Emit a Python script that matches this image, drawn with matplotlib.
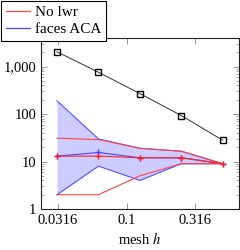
import matplotlib.pyplot as plt
import matplotlib.ticker as mticker
import numpy as np

plt.rcParams['font.family'] = ['Liberation Serif', 'DejaVu Serif']
plt.rcParams['mathtext.fontset'] = 'stix'

# mesh sizes
h = [1/32, 1/16, 1/8, 1/4, 1/2]

# reference (black squares)
ref = [2050, 760, 270, 93, 28]

# No lwr (red): min / mean / max
red_lo = [2, 2, 5, 9, 9]
red_mid = [13, 13, 12, 12, 9]
red_hi = [31, 29, 19, 16.5, 9]

# faces ACA (blue): min / mean / max
blue_lo = [2, 8, 4, 9, 9]
blue_mid = [13, 15.5, 12, 12, 9]
blue_hi = [190, 30, 19, 16.5, 9]

fig = plt.figure(figsize=(2.4, 2.5), dpi=100)
ax = fig.add_axes([0.171, 0.164, 0.825, 0.684])

ax.fill_between(h, blue_lo, blue_hi, color='#ccccff', lw=0)
ax.plot(h, blue_lo, color='#5555ff', lw=0.8)
ax.plot(h, blue_hi, color='#5555ff', lw=0.8)
ax.plot(h, blue_mid, color='#4444ff', lw=0.8, marker='+', ms=5, mew=1.0)
ax.plot(h, red_lo, color='#ff4444', lw=0.8)
ax.plot(h, red_hi, color='#ff4444', lw=0.8)
ax.plot(h, red_mid, color='#ff2222', lw=0.8, marker='+', ms=5, mew=1.0)
ax.plot(h, ref, color='#333333', lw=0.7, marker='s', ms=4.5, mfc='none', mec='black', mew=1.0)

ax.set_xscale('log')
ax.set_yscale('log')
ax.set_xlim(0.02393, 0.657)
ax.set_ylim(1, 4000)

ax.set_xticks([0.0316, 0.1, 0.316])
ax.set_xticklabels(['0.0316', '0.1', '0.316'])
ax.xaxis.set_minor_locator(mticker.NullLocator())
ax.yaxis.set_major_locator(mticker.FixedLocator([1, 10, 100, 1000]))
ax.yaxis.set_major_formatter(mticker.FuncFormatter(lambda v, p: '{:,}'.format(int(v))))
ax.yaxis.set_minor_locator(mticker.LogLocator(base=10, subs=np.arange(2, 10)))
ax.yaxis.set_minor_formatter(mticker.NullFormatter())

ax.tick_params(which='both', direction='in', top=True, right=True, labelsize=10.5, color='#888888')
ax.tick_params(which='major', length=4.5, width=0.6)
ax.tick_params(which='minor', length=2.5, width=0.5)
for s in ax.spines.values():
    s.set_linewidth(0.8)
    s.set_color('#222222')

ax.set_xlabel('mesh $h$', fontsize=10.5, labelpad=3)

handles = [plt.Line2D([], [], color='#ff4444', lw=0.9),
           plt.Line2D([], [], color='#4444ff', lw=0.9)]
leg = fig.legend(handles, ['No lwr', 'faces ACA'], loc='upper left',
                 bbox_to_anchor=(0.004, 0.996), bbox_transform=fig.transFigure,
                 fontsize=11, fancybox=False, framealpha=1, edgecolor='black',
                 handlelength=1.6, handletextpad=0.3, borderpad=0.3, labelspacing=0.2,
                 borderaxespad=0)
leg.get_frame().set_linewidth(0.8)

fig.savefig('out.png', dpi=100)
